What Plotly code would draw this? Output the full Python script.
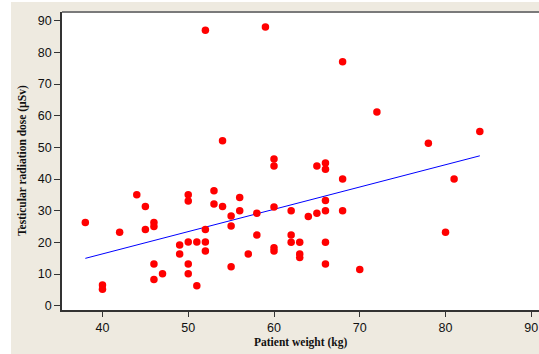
import plotly.graph_objects as go

weight = [38, 40, 40, 42, 44, 45, 45, 46, 46, 46, 46, 47, 49, 49,
          50, 50, 50, 50, 50, 51, 51, 52, 52, 52, 52, 53, 53, 54, 54,
          55, 55, 55, 56, 56, 57, 58, 58, 59, 60, 60, 60, 60, 60,
          62, 62, 62, 63, 63, 63, 64, 65, 65, 66, 66, 66, 66, 66, 66,
          68, 68, 68, 70, 72, 78, 80, 81, 84]
dose = [26.3, 6.5, 5.2, 23.2, 35, 31.3, 24.1, 26.3, 25, 13.2, 8.3, 10.1, 19.2, 16.3,
        35, 33.1, 20.1, 13.2, 10.1, 20.1, 6.3, 87, 24.1, 20.1, 17.3, 36.3, 32.1, 52.1, 31.3,
        28.3, 25.2, 12.3, 34.2, 30, 16.3, 29.2, 22.3, 88, 46.3, 44.1, 31.2, 18.3, 17.3,
        30, 22.3, 20, 20, 16.3, 15.2, 28.2, 44.1, 29.2, 45.1, 43.1, 33.2, 30, 20, 13.2,
        77, 40, 30, 11.4, 61.2, 51.3, 23.2, 40, 55]
x_ticks = [40, 50, 60, 70, 80, 90]
y_ticks = [0, 10, 20, 30, 40, 50, 60, 70, 80, 90]

# regression line
fit_intercept = -11.8
fit_slope = 0.704
fit_x = [min(weight), max(weight)]
fit_y = [fit_slope * v + fit_intercept for v in fit_x]

W, H = 539, 354
L, R, T, B = 62, 0, 12, 44
pw, ph = W - L - R, H - T - B
beige = "#EEEAE0"

fig = go.Figure()
fig.add_trace(go.Scatter(x=fit_x, y=fit_y, mode="lines",
                         line=dict(color="#0000FF", width=1), showlegend=False))
fig.add_trace(go.Scatter(x=weight, y=dose, mode="markers",
                         marker=dict(color="#FF0000", size=7.5, line=dict(width=0)),
                         showlegend=False))

tickfont = dict(family="Liberation Sans, Arial, sans-serif", size=12.5, color="#111111")
fig.update_layout(
    width=W, height=H,
    margin=dict(l=L, r=R, t=T, b=B, pad=0),
    paper_bgcolor=beige, plot_bgcolor="white",
    xaxis=dict(range=[35.28, 90.9], tickvals=x_ticks, showgrid=False, zeroline=False,
               showline=True, linecolor="#333333", linewidth=1.5,
               ticks="outside", ticklen=5, tickwidth=1, tickcolor="#333333",
               tickfont=tickfont),
    yaxis=dict(range=[-1.36, 92.75], tickvals=y_ticks, showgrid=False, zeroline=False,
               showline=True, linecolor="#333333", linewidth=1.5,
               ticks="outside", ticklen=6, tickwidth=1, tickcolor="#333333",
               tickfont=tickfont),
    shapes=[
        dict(type="line", xref="paper", yref="paper", x0=0, x1=1.01, y0=1, y1=1,
             line=dict(color="#7A7A7A", width=2)),
        dict(type="rect", xref="paper", yref="paper", x0=(0 - L) / pw, x1=(11 - L) / pw,
             y0=(T + ph - H) / ph, y1=(T + ph) / ph, fillcolor="white",
             line=dict(width=0), layer="below"),
        dict(type="rect", xref="paper", yref="paper", x0=(0 - L) / pw, x1=1.01,
             y0=(T + ph - 2) / ph, y1=(T + ph) / ph, fillcolor="white",
             line=dict(width=0), layer="below"),
    ],
    annotations=[
        dict(text="<b>Patient weight (kg)</b>", xref="paper", yref="paper",
             x=(300 - L) / pw, y=(T + ph - 342) / ph, xanchor="center", yanchor="middle",
             showarrow=False,
             font=dict(family="Liberation Serif, Times New Roman, serif", size=11.5, color="#111111")),
        dict(text="<b>Testicular radiation dose (µSv)</b>", xref="paper", yref="paper",
             x=(22 - L) / pw, y=(T + ph - 161) / ph, xanchor="center", yanchor="middle",
             textangle=-90, showarrow=False,
             font=dict(family="Liberation Serif, Times New Roman, serif", size=11.5, color="#111111")),
    ],
)

fig.write_html("out.html")
